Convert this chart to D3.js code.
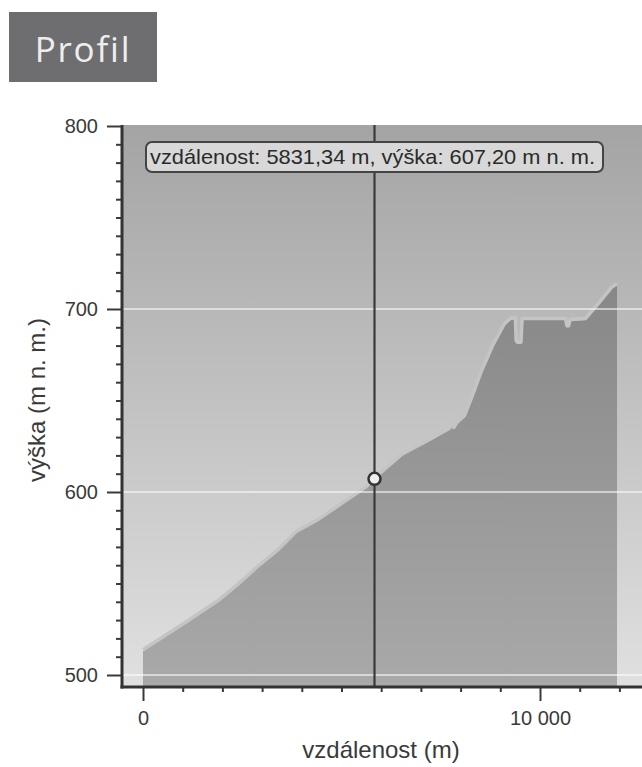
<!DOCTYPE html>
<html><head><meta charset="utf-8">
<script src="https://cdn.jsdelivr.net/npm/d3@7"></script>
<style>body{margin:0;background:#fff;}svg{display:block;}</style>
</head><body>
<svg id="chart" width="642" height="767"></svg>
<script>
// ---- data ----
const distances  = [0, 1140, 1900, 2400, 2910, 3420, 3850, 4430, 4940, 5620, 5831, 5950, 6530, 7140, 7720, 7790, 7830, 7900, 8100, 8300, 8500, 8800, 9100, 9250, 9380, 9400, 9430, 9520, 9550, 9580, 10000, 10640, 10680, 10720, 10760, 11150, 11500, 11800, 11940];
const elevations = [513, 529, 540, 549, 559, 568, 577.5, 584.5, 592, 602, 607.2, 609, 620, 627, 634, 637, 634.5, 637, 641, 652, 664, 679, 691, 694, 694.5, 682, 681, 681, 694, 694, 694, 694, 690, 690, 693.5, 694, 703, 711, 713];
const yTicks = [500, 600, 700, 800];
const yMinorStep = 10;
const xTicks = [0, 10000];
const xTickLabels = ["0", "10 000"];
const xMinorStep = 1000;
const cursorDistance = 5831.34;
const cursorElevation = 607.20;
const titleText = "Profil";
const xAxisTitle = "vzdálenost (m)";
const yAxisTitle = "výška (m n. m.)";
const tooltipText = "vzdálenost: 5831,34 m, výška: 607,20 m n. m.";

// ---- layout ----
const svg = d3.select("#chart");
const plotL = 122, plotR = 642, plotT = 125, plotB = 687;
const x = d3.scaleLinear().domain([0, 10000]).range([143, 540]);
const y = d3.scaleLinear().domain([500, 800]).range([675, 126]);
const data = distances.map((d, i) => ({d, e: elevations[i]}));

const defs = svg.append("defs");
const bg = defs.append("linearGradient").attr("id", "bg").attr("gradientUnits", "userSpaceOnUse")
  .attr("x1", 0).attr("y1", plotT).attr("x2", 0).attr("y2", plotB);
bg.append("stop").attr("offset", 0).attr("stop-color", "#a4a4a4");
bg.append("stop").attr("offset", 1).attr("stop-color", "#e0e0e0");
const ag = defs.append("linearGradient").attr("id", "ag").attr("gradientUnits", "userSpaceOnUse")
  .attr("x1", 0).attr("y1", 280).attr("x2", 0).attr("y2", plotB);
ag.append("stop").attr("offset", 0).attr("stop-color", "#878787");
ag.append("stop").attr("offset", 1).attr("stop-color", "#a9a9a9");

// title box
svg.append("rect").attr("x", 9).attr("y", 12).attr("width", 148).attr("height", 70).attr("fill", "#6e6e71");
svg.append("text").attr("x", 83).attr("y", 62).attr("text-anchor", "middle")
  .attr("font-family", "'Open Sans', sans-serif").attr("font-size", 35).attr("letter-spacing", 1.8)
  .attr("fill", "#eeeeee").text(titleText);

// plot background
svg.append("rect").attr("x", plotL).attr("y", plotT).attr("width", plotR - plotL).attr("height", plotB - plotT).attr("fill", "url(#bg)");

// area
svg.append("path").datum(data).attr("fill", "url(#ag)")
  .attr("d", d3.area().x(d => x(d.d)).y0(plotB).y1(d => y(d.e)));
svg.append("path").datum(data).attr("fill", "none").attr("stroke", "#c4c4c4").attr("stroke-width", 3.5)
  .attr("stroke-linejoin", "round")
  .attr("transform", "translate(0,-1.5)")
  .attr("d", d3.line().x(d => x(d.d)).y(d => y(d.e)));

// gridlines
svg.append("g").selectAll("line").data(yTicks.filter(t => t < 800)).join("line")
  .attr("x1", plotL).attr("x2", plotR).attr("y1", d => y(d)).attr("y2", d => y(d))
  .attr("stroke", "#ffffff").attr("stroke-opacity", 0.55).attr("stroke-width", 2);

// cursor
svg.append("line").attr("x1", x(cursorDistance)).attr("x2", x(cursorDistance)).attr("y1", plotT).attr("y2", plotB)
  .attr("stroke", "#3a3a3a").attr("stroke-width", 2.2);
svg.append("circle").attr("cx", x(cursorDistance)).attr("cy", y(cursorElevation)).attr("r", 6)
  .attr("fill", "#eeeeee").attr("stroke", "#333").attr("stroke-width", 2.5);

// axes
const yMinor = d3.range(500, 801, yMinorStep).filter(v => !yTicks.includes(v));
const gyMin = svg.append("g").attr("transform", `translate(${plotL},0)`)
  .call(d3.axisLeft(y).tickValues(yMinor).tickSize(6).tickFormat(""));
const gy = svg.append("g").attr("transform", `translate(${plotL},0)`)
  .call(d3.axisLeft(y).tickValues(yTicks).tickSize(15).tickPadding(9).tickFormat(d3.format("d")));
const xMinor = d3.range(0, 12001, xMinorStep).filter(v => !xTicks.includes(v));
const gxMin = svg.append("g").attr("transform", `translate(0,${plotB})`)
  .call(d3.axisBottom(x).tickValues(xMinor).tickSize(5).tickFormat(""));
const gx = svg.append("g").attr("transform", `translate(0,${plotB})`)
  .call(d3.axisBottom(x).tickValues(xTicks).tickSize(14).tickPadding(10).tickFormat((d, i) => xTickLabels[i]));
[gyMin, gy, gxMin, gx].forEach(g => {
  g.select(".domain").remove();
  g.selectAll("line").attr("stroke", "#3a3a3a").attr("stroke-width", 2);
  g.selectAll("text").attr("font-family", "'Liberation Sans', Arial, sans-serif").attr("font-size", 20).attr("fill", "#3a3a3a");
});
svg.append("line").attr("x1", plotL).attr("x2", plotL).attr("y1", plotT).attr("y2", plotB + 1.5)
  .attr("stroke", "#333").attr("stroke-width", 3);
svg.append("line").attr("x1", plotL - 1.5).attr("x2", plotR).attr("y1", plotB).attr("y2", plotB)
  .attr("stroke", "#333").attr("stroke-width", 3);

// tooltip
svg.append("rect").attr("x", 146).attr("y", 142).attr("width", 457).attr("height", 30).attr("rx", 6)
  .attr("fill", "#d8d8d8").attr("stroke", "#444").attr("stroke-width", 2);
svg.append("text").attr("x", 150).attr("y", 164)
  .attr("font-family", "'Liberation Sans', Arial, sans-serif").attr("font-size", 21).attr("fill", "#2a2a2a")
  .attr("textLength", 445).attr("lengthAdjust", "spacingAndGlyphs").text(tooltipText);

// axis titles
svg.append("text").attr("x", 381).attr("y", 758).attr("text-anchor", "middle")
  .attr("font-family", "'Liberation Sans', Arial, sans-serif").attr("font-size", 24).attr("fill", "#3a3a3a").text(xAxisTitle);
svg.append("text").attr("transform", "translate(45,400) rotate(-90)").attr("text-anchor", "middle")
  .attr("font-family", "'Liberation Sans', Arial, sans-serif").attr("font-size", 24).attr("fill", "#3a3a3a").text(yAxisTitle);
</script>
</body></html>
